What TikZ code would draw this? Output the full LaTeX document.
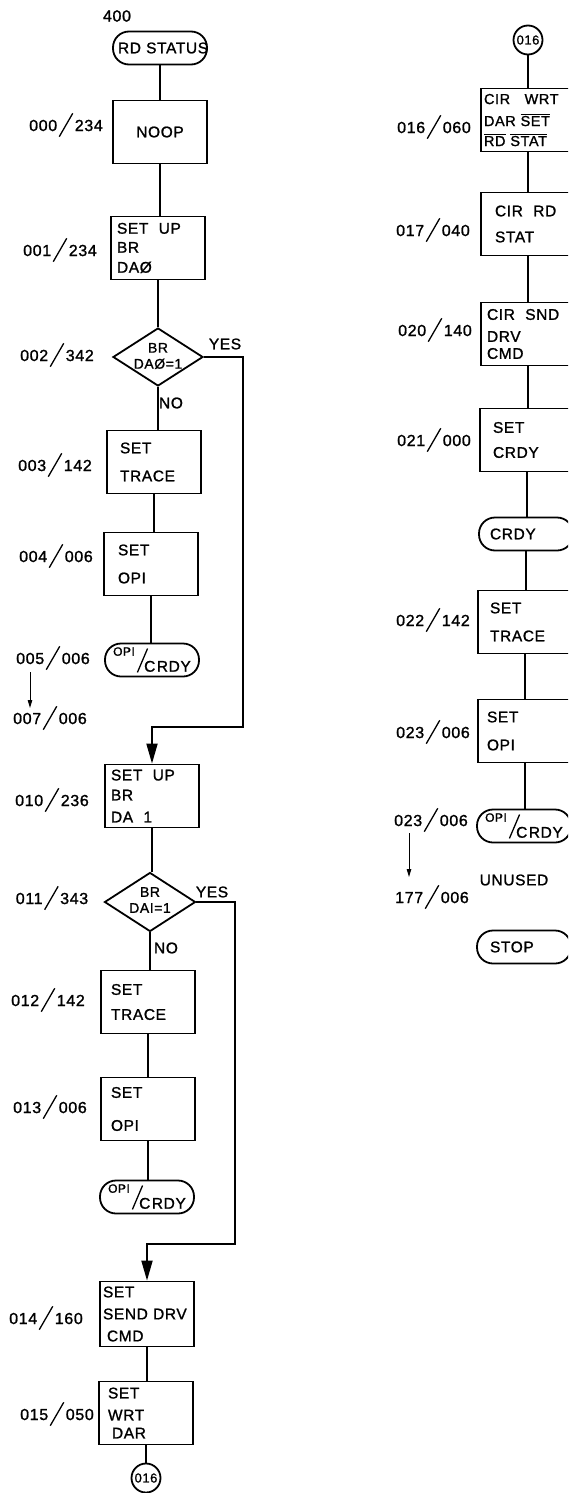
\documentclass[tikz,border=0pt]{standalone}
\usepackage{fontspec}
\setmainfont{Liberation Sans}[LetterSpace=4,FakeBold=1.2]
\usepackage{graphicx}
\usetikzlibrary{shapes.geometric,arrows.meta}
\newcommand\addr[2]{#1\kern1.5pt\raisebox{-6pt}{\rotatebox{60}{\rule{27pt}{1.3pt}}}\kern1.5pt#2}
\newcommand\opicrdy{\raisebox{8pt}{\fontsize{12}{12}\selectfont OPI}\kern2pt\raisebox{-9pt}{\rotatebox{67}{\rule{26pt}{1.3pt}}}\kern-4pt\raisebox{-8pt}{C\kern1.5pt RDY}}
\newcommand\ovl[1]{\smash{$\overline{\mbox{#1}}$}}
\begin{document}
\begin{tikzpicture}[x=1pt,y=-1pt, line width=1.8pt,
  every node/.style={font=\fontsize{15.5}{18}\selectfont, inner sep=0pt},
  box/.style={draw, minimum width=94pt, minimum height=63pt, text width=#1, align=left},
  box/.default=80pt,
  term/.style={draw, rounded corners=16pt, minimum width=94pt, minimum height=33pt, text width=#1, align=left},
  term/.default=74pt,
  dec/.style={draw, diamond, minimum width=90pt, minimum height=58pt},
  dectext/.style={align=center, font=\fontsize{14}{16}\selectfont},
  conn/.style={draw, circle, minimum size=29pt, font=\fontsize{13}{13}\selectfont},
  lab/.style={font=\fontsize{16}{18}\selectfont},
  arr/.style={-{Triangle[length=20pt,width=11pt]}},
  sarr/.style={line width=1pt,-{Triangle[length=8pt,width=4.5pt]}}
]
\useasboundingbox (0,0) rectangle (568,1493);
\clip (0,0) rectangle (568,1493);
\fill[white] (0,0) rectangle (568,1493);

% ---------- left column ----------
\node[lab] (l400) at (117,16) {400};
\node[term=84pt] (t0) at (160,48) {\mbox{RD STATUS}};
\node[box=60pt, align=center] (b0) at (160,132) {NOOP};
\node[box=82pt] (b1) at (158,248) {SET\ \ UP\\[1pt]BR\\[2pt]DAØ};
\node[dec] (d1) at (158,357) {};
\node[dectext] (d1t) at (158,356) {BR\\DAØ=1};
\node[box=68pt] (b2) at (154,462) {SET\\[10pt]TRACE};
\node[box=66pt] (b3) at (151,564) {SET\\[10pt]OPI};
\node[term=86pt, align=center] (t1) at (152,660) {\opicrdy};
\node[box=82pt] (b4) at (152,796) {SET\ \ UP\\[2pt]BR\\[4pt]DA\ \ 1};
\node[dec, minimum width=91pt, minimum height=59pt] (d2) at (150,902) {};
\node[dectext] (d2t) at (150,900) {BR\\DAI=1};
\node[box=74pt] (b5) at (148,1002) {SET\\[7pt]TRACE};
\node[box=74pt] (b6) at (148,1109) {SET\\[15pt]OPI};
\node[term=86pt, align=center] (t2) at (147,1197) {\opicrdy};
\node[box=88pt, minimum height=65pt] (b7) at (147,1314) {SET\\[4pt]SEND DRV\\[4pt]\hspace*{4pt}CMD};
\node[box=76pt] (b8) at (146,1413) {SET\\[4pt]WRT\\[0pt]\hspace*{4pt}DAR};
\node[conn] (c1) at (146,1478) {016};

% address labels left
\node[lab] (a0) at (66,125) {\addr{000}{234}};
\node[lab] (a1) at (60,250) {\addr{001}{234}};
\node[lab] (a2) at (57,355) {\addr{002}{342}};
\node[lab] (a3) at (55,465) {\addr{003}{142}};
\node[lab] (a4) at (56,556) {\addr{004}{006}};
\node[lab] (a5) at (53,658) {\addr{005}{006}};
\node[lab] (a7) at (50,718) {\addr{007}{006}};
\node[lab] (a10) at (52,800) {\addr{010}{236}};
\node[lab] (a11) at (52,898) {\addr{011}{343}};
\node[lab] (a12) at (48,1000) {\addr{012}{142}};
\node[lab] (a13) at (50,1107) {\addr{013}{006}};
\node[lab] (a14) at (46,1318) {\addr{014}{160}};
\node[lab] (a15) at (57,1414) {\addr{015}{050}};

\node (y1) at (225,344) {YES};
\node (n1) at (171,403) {NO};
\node (y2) at (212,892) {YES};
\node (n2) at (166,948) {NO};

\coordinate (k1) at (243,727);
\coordinate (k2) at (235,1244);
\coordinate (s1) at (30,672);
\coordinate (e1) at (30,708);

% connectors left
\draw (t0.south) -- (t0.south |- b0.north);
\draw (b0.south) -- (b0.south |- b1.north);
\draw (b1.south) -- (b1.south |- d1.north);
\draw (d1.south) -- (d1.south |- b2.north);
\draw (b2.south) -- (b2.south |- b3.north);
\draw (b3.south) -- (b3.south |- t1.north);
\draw[arr] (d1.east) -| (k1) -| (b4.north);
\draw (b4.south) -- (b4.south |- d2.north);
\draw (d2.south) -- (d2.south |- b5.north);
\draw (b5.south) -- (b5.south |- b6.north);
\draw (b6.south) -- (b6.south |- t2.north);
\draw[arr] (d2.east) -| (k2) -| (b7.north);
\draw (b7.south) -- (b7.south |- b8.north);
\draw (b8.south) -- (b8.south |- c1.north);
\draw[sarr] (s1) -- (e1);

% ---------- right column ----------
\node[conn] (c2) at (528,40) {016};
\node[box=88pt, font=\fontsize{14.5}{17}\selectfont] (r0) at (528,120) {CIR\ \ \ WRT\\[5pt]DAR \ovl{SET}\\[3pt]\ovl{RD}\ \ovl{STAT}};
\node[box=66pt] (r1) at (528,224) {CIR\ \ RD\\[8pt]STAT};
\node[box=82pt] (r2) at (528,334) {CIR\ \ SND\\[4pt]DRV\\[-1pt]CMD};
\node[box=68pt] (r3) at (527,440) {SET\\[7pt]CRDY};
\node[term=72pt] (rt0) at (526,534) {CRDY};
\node[box=70pt] (r4) at (525,622) {SET\\[10pt]TRACE};
\node[box=76pt] (r5) at (525,731) {SET\\[10pt]OPI};
\node[term=84pt, align=center] (rt1) at (524,826) {\opicrdy};
\node (un) at (514,880) {UNUSED};
\node[term=68pt] (rt2) at (524,947) {STOP};

\node[lab] (a16) at (434,127) {\addr{016}{060}};
\node[lab] (a17) at (433,230) {\addr{017}{040}};
\node[lab] (a20) at (435,330) {\addr{020}{140}};
\node[lab] (a21) at (434,440) {\addr{021}{000}};
\node[lab] (a22) at (433,620) {\addr{022}{142}};
\node[lab] (a23) at (433,732) {\addr{023}{006}};
\node[lab] (a23b) at (431,820) {\addr{023}{006}};
\node[lab] (a177) at (432,897) {\addr{177}{006}};

\coordinate (s2) at (409,833);
\coordinate (e2) at (409,877);

\draw (c2.south) -- (c2.south |- r0.north);
\draw (r0.south) -- (r0.south |- r1.north);
\draw (r1.south) -- (r1.south |- r2.north);
\draw (r2.south) -- (r2.south |- r3.north);
\draw (r3.south) -- (r3.south |- rt0.north);
\draw (rt0.south) -- (rt0.south |- r4.north);
\draw (r4.south) -- (r4.south |- r5.north);
\draw (r5.south) -- (r5.south |- rt1.north);
\draw[sarr] (s2) -- (e2);
\end{tikzpicture}
\end{document}
